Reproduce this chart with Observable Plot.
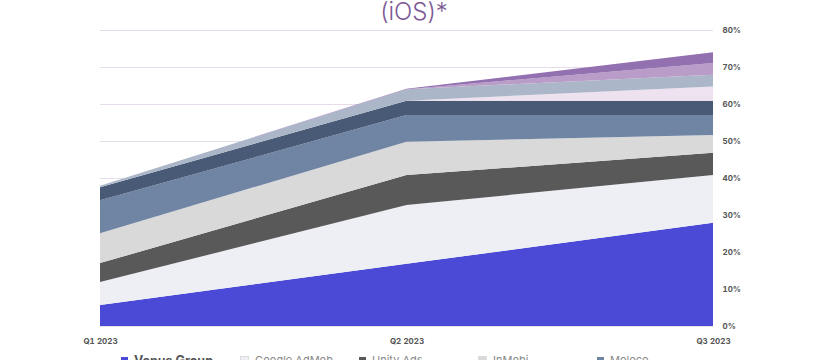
<!DOCTYPE html>
<html>
<head>
<meta charset="utf-8">
<script src="https://cdn.jsdelivr.net/npm/d3@7"></script>
<script src="https://cdn.jsdelivr.net/npm/@observablehq/plot@0.6"></script>
<style>
  body { margin: 0; background: #fff; font-family: Inter, "Noto Sans", sans-serif; overflow: hidden; }
  #title { height: 24px; font-size: 24px; line-height: 24px; color: #7d5a96; text-align: center; padding-left: 8px; font-weight: 300; white-space: nowrap; }
  #legend { display: flex; flex-wrap: wrap; padding-left: 121px; margin-top: -1px; width: 620px; }
  .item { width: 119px; display: flex; align-items: center; font-size: 11px; color: #8a8a8a; height: 14px; white-space: nowrap; }
  .item .sw { width: 7px; height: 7px; margin-right: 6px; flex: none; }
  .item.first { font-weight: 700; color: #555; font-size: 12.5px; }
</style>
</head>
<body>
<div id="title">(iOS)*</div>
<div id="chart"></div>
<div id="legend"></div>
<script>
const quarters = ["Q1 2023", "Q2 2023", "Q3 2023"];
const seriesNames = ["Venus Group", "Google AdMob", "Unity Ads", "InMobi", "Moloco",
  "AppLovin", "Chartboost", "Digital Turbine", "Pangle", "Meta Audience Network"];
const seriesColors = ["#4a4ad6", "#eeeff4", "#595959", "#d9d9d9", "#7084a4",
  "#485a76", "#efe2f0", "#abb7c8", "#b99cc8", "#9370b0"];
const venusGroup    = [5.7, 16.8, 27.9];
const googleAdMob   = [6.2, 15.9, 12.9];
const unityAds      = [5.1, 8.1, 6.0];
const inMobi        = [8.1, 9.0, 4.8];
const moloco        = [8.9, 7.2, 5.4];
const appLovin      = [3.5, 3.9, 3.9];
const chartboost    = [0, 0, 3.8];
const digitalTurbine= [0.4, 3.1, 3.2];
const pangle        = [0, 0, 3.2];
const metaAN        = [0, 0.1, 2.9];
const yTicks = [0, 10, 20, 30, 40, 50, 60, 70, 80];

const seriesValues = [venusGroup, googleAdMob, unityAds, inMobi, moloco,
  appLovin, chartboost, digitalTurbine, pangle, metaAN];

const rows = [];
seriesNames.forEach((name, si) => {
  seriesValues[si].forEach((v, qi) => rows.push({series: name, q: qi, value: v}));
});

const chart = Plot.plot({
  width: 820,
  height: 330,
  marginTop: 6,
  marginBottom: 28,
  marginLeft: 100,
  marginRight: 107,
  style: {fontFamily: "Inter, 'Noto Sans', sans-serif"},
  x: {type: "linear", domain: [0, 2], label: null},
  y: {domain: [0, 80], label: null},
  color: {domain: seriesNames, range: seriesColors},
  marks: [
    Plot.ruleY(yTicks, {stroke: "#e6dcea", strokeWidth: 1}),
    Plot.areaY(rows, Plot.stackY({x: "q", y: "value", z: "series", fill: "series", order: null})),
    Plot.ruleY([0], {stroke: "#e4e4e4"}),
    Plot.axisX([0, 1, 2], {tickSize: 0, tickPadding: 12, tickFormat: (d) => quarters[d],
      fontSize: 8, fontWeight: 700, fill: "#555", label: null}),
    Plot.axisY(yTicks, {anchor: "right", tickSize: 0, tickPadding: 9, tickFormat: (d) => d + "%",
      fontSize: 8, fontWeight: 700, fill: "#555", label: null})
  ]
});
document.getElementById("chart").appendChild(chart);

const legend = document.getElementById("legend");
seriesNames.forEach((name, i) => {
  const it = document.createElement("div");
  it.className = "item" + (i === 0 ? " first" : "");
  const sw = document.createElement("span");
  sw.className = "sw";
  sw.style.background = seriesColors[i];
  if (seriesColors[i] === "#eeeff4" || seriesColors[i] === "#d9d9d9") sw.style.border = "1px solid #ddd";
  it.appendChild(sw);
  it.appendChild(document.createTextNode(name));
  legend.appendChild(it);
});
</script>
</body>
</html>
